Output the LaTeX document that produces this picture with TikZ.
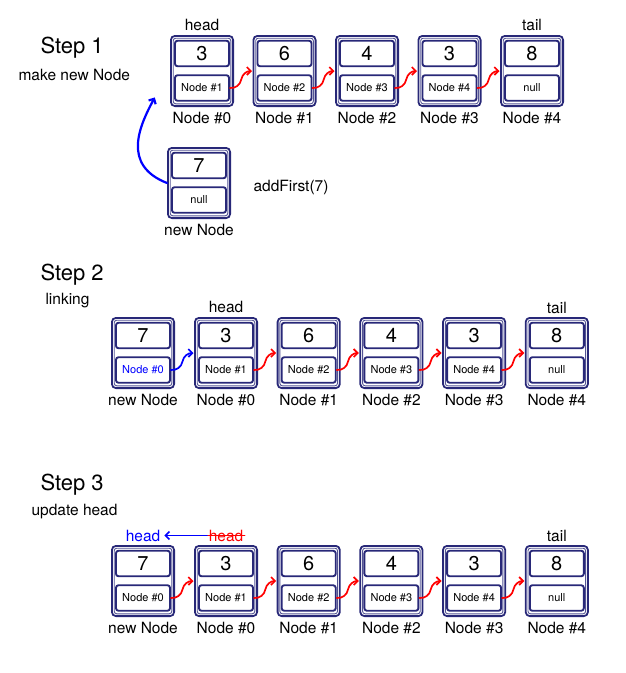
\documentclass[tikz,border=0pt]{standalone}
\usepackage{fontspec}
\setmainfont{TeX Gyre Heros}
\usepackage{xcolor}
\usetikzlibrary{arrows, arrows.meta, calc}
\definecolor{navy}{RGB}{40,40,120}

\begin{document}
\begin{tikzpicture}[x=1pt,y=1pt,line join=round,line cap=round,>={Straight Barb[length=4pt,width=8pt]},
box/.style={draw=navy,line width=1.8pt,rounded corners=4pt,minimum width=62.2pt,minimum height=70.2pt,inner sep=0pt,
 path picture={\draw[navy!80,line width=0.9pt,rounded corners=2.5pt] ($(path picture bounding box.south west)+(2.3,2.3)$) rectangle ($(path picture bounding box.north east)+(-2.3,-2.3)$);}},
cell/.style={draw=navy,line width=1.9pt,rounded corners=2.5pt,minimum width=54pt,minimum height=25.5pt,inner sep=0pt},
val/.style={cell,font=\fontsize{20}{24}\selectfont},
ptr/.style={cell,font=\fontsize{11}{13}\selectfont},
lab/.style={font=\fontsize{15.5}{18}\selectfont},
steptitle/.style={anchor=west,font=\fontsize{22}{26}\selectfont},
stepsub/.style={anchor=west,font=\fontsize{15.5}{18}\selectfont},
link/.style={->,line width=1.7pt,shorten >=0.5pt}]
\useasboundingbox (0,0) rectangle (626,-673);
% titles
\node[steptitle] (s1) at (37,-48) {Step 1};
\node[stepsub] (s1t) at (15,-75) {make new Node};
\node[steptitle] (s2) at (37,-275) {Step 2};
\node[stepsub] (s2t) at (42,-301) {linking};
\node[steptitle] (s3) at (37,-485) {Step 3};
\node[stepsub] (s3t) at (28,-512) {update head};
% step 1 list
\foreach \i/\nv/\np in {0/3/Node \#1,1/6/Node \#2,2/4/Node \#3,3/3/Node \#4,4/8/null}
{\node[box] (a\i) at (202+82.5*\i,-71) {};
\node[val] (av\i) at ($(a\i)+(0,17.5)$) {\nv};
\node[ptr] (ap\i) at ($(a\i)+(0,-17)$) {\np};
\node[lab] (al\i) at ($(a\i)+(0,-47)$) {Node \#\i};}
\foreach \i [count=\j] in {0,...,3}
{\draw[link,red] (ap\i.east) to[out=-5,in=-100] ($(ap\i.east)!0.5!(a\j.west)$) to[out=80,in=180] (a\j.west);}
\node[lab] (ahead) at ($(a0)+(0,46)$) {head};
\node[lab] (atail) at ($(a4)+(0,46)$) {tail};
% new node
\node[box] (nw) at (199,-183) {};
\node[val] (nwv) at ($(nw)+(0,17.5)$) {7};
\node[ptr] (nwp) at ($(nw)+(0,-17)$) {null};
\node[lab] (nwl) at ($(nw)+(0,-47)$) {new Node};
\node[lab] (add) at (291,-187) {addFirst(7)};
\coordinate (up) at (155,-97);
\draw[link,blue,line width=2.2pt] (nw.west) .. controls +(-46,18) and +(-15,-28) .. (up);
% step 2 and 3 lists
\foreach \row/\y/\tc/\lc in {b/353/blue/blue,c/581/black/red}
{\node[box] (\row n) at (143,-\y) {};
\node[val] (\row nv) at ($(\row n)+(0,17.5)$) {7};
\node[ptr,text=\tc] (\row np) at ($(\row n)+(0,-17)$) {Node \#0};
\node[lab] (\row nl) at ($(\row n)+(0,-47)$) {new Node};
\foreach \i/\nv/\np in {0/3/Node \#1,1/6/Node \#2,2/4/Node \#3,3/3/Node \#4,4/8/null}
{\node[box] (\row\i) at (226+82.7*\i,-\y) {};
\node[val] (\row v\i) at ($(\row\i)+(0,17.5)$) {\nv};
\node[ptr] (\row p\i) at ($(\row\i)+(0,-17)$) {\np};
\node[lab] (\row l\i) at ($(\row\i)+(0,-47)$) {Node \#\i};}
\foreach \i [count=\j] in {0,...,3}
{\draw[link,red] (\row p\i.east) to[out=-5,in=-100] ($(\row p\i.east)!0.5!(\row\j.west)$) to[out=80,in=180] (\row\j.west);}
\draw[link,\lc] (\row np.east) to[out=-5,in=-100] ($(\row np.east)!0.5!(\row0.west)$) to[out=80,in=180] (\row0.west);
\node[lab] (\row tail) at ($(\row4)+(0,45.5)$) {tail};}
\node[lab] (bhead) at ($(b0)+(0,46)$) {head};
% update head
\node[lab,text=blue] (newhead) at ($(cn)+(0,45.5)$) {head};
\node[lab,text=red,inner sep=1.5pt] (oldhead) at ($(c0)+(0,45.5)$) {head};
\draw[red,line width=1pt] (oldhead.west)--(oldhead.east);
\draw[link,blue] (oldhead.west)--(newhead.east);
\end{tikzpicture}
\end{document}
